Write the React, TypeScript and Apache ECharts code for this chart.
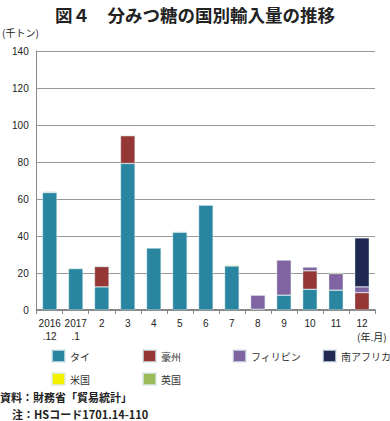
import React, { useEffect, useRef } from "react";
import * as echarts from "echarts";

const categories = ["2016\n.12", "2017\n.1", "2", "3", "4", "5", "6", "7", "8", "9", "10", "11", "12"];
const thai = [63.5, 22.4, 12.5, 79.2, 33.5, 42, 56.7, 23.8, null, 8, 11.2, 10.7, null];
const australia = [null, null, 11, 15, null, null, null, null, 0.4, null, 10, null, 9.4];
const philippines = [null, null, null, null, null, null, null, null, 7.6, 19, 2, 9, 3.1];
const southAfrica = [null, null, null, null, null, null, null, null, null, null, null, null, 26.5];
const usa = [0.3, null, 0.3, 0.3, null, null, null, 0.5, null, null, null, 0.5, null];
const uk = [0.2, null, null, null, null, 0.3, null, null, null, null, null, null, null];

const seriesNames = ["タイ", "豪州", "フィリピン", "南アフリカ", "米国", "英国"];
const seriesData = [thai, australia, philippines, southAfrica, usa, uk];
const colors = ["#2a86a0", "#953735", "#8064a2", "#1f2952", "#f2f200", "#9bbb59"];

const FONT = "'Liberation Sans', 'Noto Sans CJK JP', sans-serif";
const JP = "'Noto Sans CJK JP', sans-serif";

export default function App() {
  const ref = useRef<HTMLDivElement>(null);
  useEffect(() => {
    document.body.style.margin = "0";
    const chart = echarts.init(ref.current!, null, { renderer: "svg" });
    const legendText = { fontSize: 10, lineHeight: 12, color: "#333", fontFamily: JP };
    const mkLegend = (left: number, data: string[]) => ({
      left,
      top: 349,
      orient: "vertical",
      itemWidth: 13,
      itemHeight: 12,
      itemGap: 9,
      icon: "rect",
      textStyle: legendText,
      selectedMode: false,
      padding: 0,
      data,
    });
    chart.setOption({
      animation: false,
      color: colors,
      title: {
        text: "図４　分みつ糖の国別輸入量の推移",
        left: "center",
        top: 1,
        textStyle: { fontSize: 17.5, fontWeight: "bold", color: "#222", fontFamily: JP },
      },
      legend: [
        mkLegend(51, ["タイ", "米国"]),
        mkLegend(142, ["豪州", "英国"]),
        mkLegend(232, ["フィリピン"]),
        mkLegend(322, ["南アフリカ"]),
      ],
      grid: { left: 36.7, right: 15, top: 51, bottom: 111 },
      xAxis: {
        type: "category",
        data: categories,
        axisLine: { lineStyle: { color: "#888", width: 2 } },
        axisTick: { show: true, length: 4, lineStyle: { color: "#888" } },
        axisLabel: { fontSize: 10, color: "#222", fontFamily: FONT, margin: 7, lineHeight: 13, interval: 0 },
      },
      yAxis: {
        type: "value",
        min: 0,
        max: 140,
        interval: 20,
        axisLine: { show: true, lineStyle: { color: "#888", width: 1 } },
        axisTick: { show: false },
        splitLine: { lineStyle: { color: "#999", width: 1 } },
        axisLabel: { fontSize: 10, color: "#222", fontFamily: FONT, margin: 8 },
      },
      series: seriesNames.map((name, i) => ({
        name,
        type: "bar",
        stack: "total",
        barWidth: "56%",
        data: seriesData[i],
        itemStyle: { color: colors[i], borderColor: "rgba(220,235,240,0.7)", borderWidth: 0.6 },
      })),
      graphic: [
        { type: "text", left: 2, top: 27, style: { text: "(千トン)", fontSize: 10, fill: "#222", fontFamily: JP } },
        { type: "text", left: 357, top: 331, style: { text: "(年.月)", fontSize: 10, lineHeight: 11, fill: "#222", fontFamily: JP } },
        { type: "text", left: 0, top: 391, style: { text: "資料：財務省「貿易統計」", fontSize: 11, lineHeight: 12, fontWeight: "bold", fill: "#222", fontFamily: JP } },
        { type: "text", left: 12, top: 408, style: { text: "注：HSコード1701.14-110", fontSize: 11, lineHeight: 12, fontWeight: "bold", fill: "#222", fontFamily: JP } },
      ],
    });
    return () => chart.dispose();
  }, []);
  return <div ref={ref} style={{ width: 390, height: 421 }} />;
}
